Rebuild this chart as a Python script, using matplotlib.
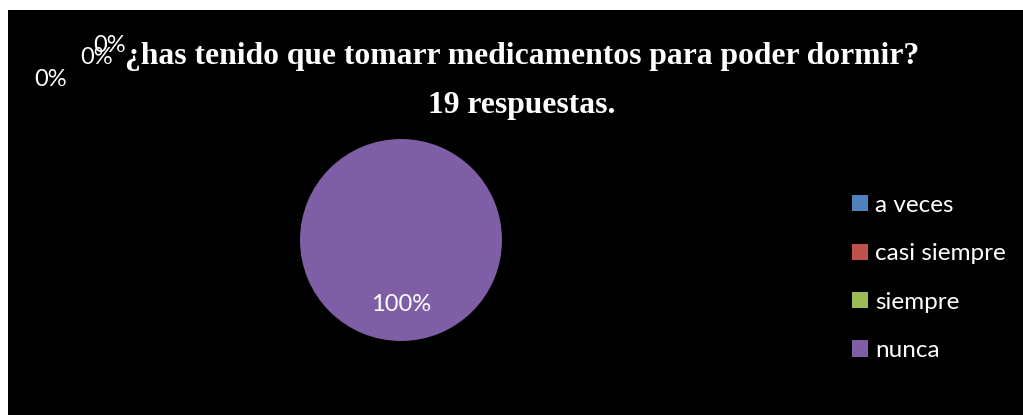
#!/usr/bin/env python3
# -*- coding: utf-8 -*-
import matplotlib
matplotlib.use("Agg")
from matplotlib import pyplot as plt

# survey answers (19 responses)
categories = ['a veces', 'casi siempre', 'siempre', 'nunca']
counts = [0, 0, 0, 19]
colors = ['#4f81bd', '#c0504d', '#9bbb59', '#7e5fa6']
title = '¿has tenido que tomarr medicamentos para poder dormir?\n19 respuestas.'

W, H = 1023, 415
fig = plt.figure(figsize=(W / 100., H / 100.), dpi=100, facecolor='white')

# black chart area
bg = fig.add_axes([8. / W, 0, 1 - 8. / W, 1 - 10. / H])
bg.set_facecolor('black')
bg.set_xticks([])
bg.set_yticks([])
for s in bg.spines.values():
    s.set_visible(False)

# pie: center (401,240), radius 101 px
cx, cy, r = 401, 240, 101
ax = fig.add_axes([(cx - r) / W, (H - cy - r) / H, 2. * r / W, 2. * r / H])
ax.set_facecolor('none')
wedges, texts, autotexts = ax.pie(counts, colors=colors, startangle=90, counterclock=False,
                                  autopct='%1.0f%%', pctdistance=0.64, radius=1,
                                  textprops=dict(color='white', fontsize=17, family='Lato'))
ax.set_xlim(-1, 1)
ax.set_ylim(-1, 1)
ax.set_aspect('equal')

# Excel puts the labels of the empty slices up in the corner
zero_pos = [(110, 45), (97, 58), (51, 79)]
k = 0
for t, v in zip(autotexts, counts):
    if v == 0:
        px, py = zero_pos[k]
        k += 1
        t.set_transform(fig.transFigure)
        t.set_position((px / W, 1 - py / H))
        t.set_clip_on(False)

fig.text(522. / W, 1 - 81. / H, title, ha='center', va='center', color='white',
         fontsize=22.8, fontweight='bold', family='Liberation Serif', linespacing=1.9)

leg = ax.legend(wedges, categories, loc='center left', bbox_to_anchor=(852. / W, 1 - 278. / H),
                bbox_transform=fig.transFigure, frameon=False,
                handlelength=0.66, handleheight=0.66, handletextpad=0.3, labelspacing=1.13,
                borderpad=0, borderaxespad=0,
                prop=dict(family='Lato', size=17.5))
for t in leg.get_texts():
    t.set_color('white')

plt.savefig('out.png', dpi=100, facecolor='white')
